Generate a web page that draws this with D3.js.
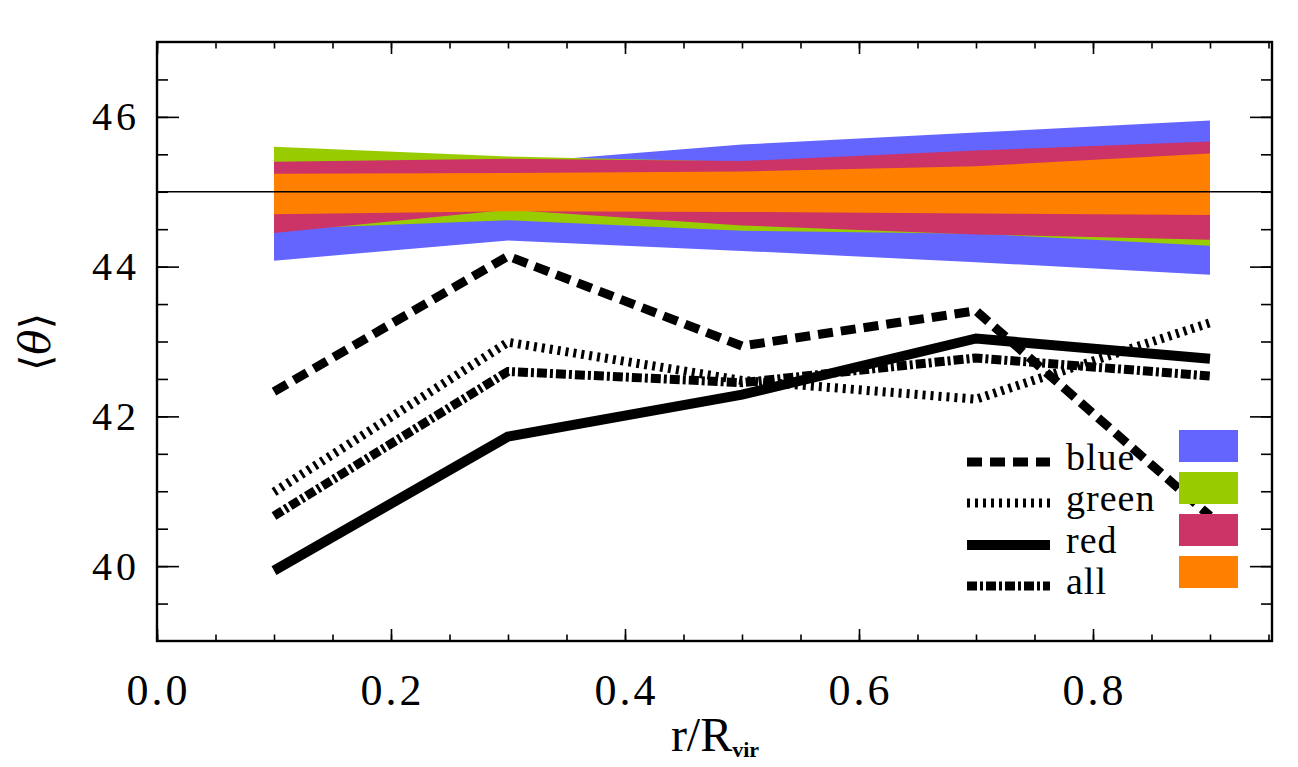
<!DOCTYPE html>
<html>
<head>
<meta charset="utf-8">
<script src="https://cdn.jsdelivr.net/npm/d3@7"></script>
<style>
  html, body { margin: 0; padding: 0; background: #fff; }
  svg { display: block; }
</style>
</head>
<body>
<svg id="chart" width="1298" height="767"></svg>
<script>
// ---- data ----
const radii = [0.1, 0.3, 0.5, 0.7, 0.9];

// band limits (mean angle spread) per colour sample
const blueHi   = [45.50, 45.38, 45.63, 45.79, 45.95];
const blueLo   = [44.08, 44.35, 44.21, 44.06, 43.89];
const greenHi  = [45.60, 45.47, 45.40, 45.45, 45.60];
const greenLo  = [44.50, 44.62, 44.48, 44.44, 44.28];
const redHi    = [45.40, 45.44, 45.41, 45.55, 45.67];
const redLo    = [44.45, 44.76, 44.55, 44.43, 44.36];
const orangeHi = [45.24, 45.25, 45.27, 45.34, 45.51];
const orangeLo = [44.70, 44.74, 44.73, 44.71, 44.69];

// measured mean angles
const blueLine  = [42.33, 44.14, 42.94, 43.41, 40.67];
const greenLine = [40.99, 42.99, 42.48, 42.23, 43.25];
const redLine   = [39.94, 41.73, 42.29, 43.04, 42.77];
const allLine   = [40.67, 42.60, 42.45, 42.78, 42.54];

const xTicks = [0.0, 0.2, 0.4, 0.6, 0.8];
const xTickLabels = ["0.0", "0.2", "0.4", "0.6", "0.8"];
const yTicks = [40, 42, 44, 46];
const yTickLabels = ["40", "42", "44", "46"];
const refValue = 45;

const legendNames = ["blue", "green", "red", "all"];
const bandNames = ["blue", "green", "red", "orange"];

// ---- layout ----
const SERIF = "'Liberation Serif', 'Times New Roman', 'DejaVu Serif', serif";
const svg = d3.select("#chart").style("font-family", SERIF);
const L = 157, R = 1272, T = 42, B = 641;
const x = d3.scaleLinear().domain([0, 0.953]).range([L, R]);
const y = d3.scaleLinear().domain([39, 47]).range([B, T]);

const bandColors = { blue: "#6464ff", green: "#99cc00", red: "#cc3366", orange: "#ff7f00" };
const bands = [
  { name: "blue", hi: blueHi, lo: blueLo },
  { name: "green", hi: greenHi, lo: greenLo },
  { name: "red", hi: redHi, lo: redLo },
  { name: "orange", hi: orangeHi, lo: orangeLo }
];
const lineStyles = {
  blue:  { dash: "15,8", width: 9 },
  green: { dash: "3,5", width: 9 },
  red:   { dash: null, width: 10 },
  all:   { dash: "10,3,3,3", width: 9 }
};
const lines = [
  { name: "blue", vals: blueLine },
  { name: "green", vals: greenLine },
  { name: "red", vals: redLine },
  { name: "all", vals: allLine }
];

// bands
const area = d3.area()
  .x((d, i) => x(radii[i]))
  .y0(d => y(d[0]))
  .y1(d => y(d[1]));
bands.forEach(b => {
  const pts = radii.map((r, i) => [b.lo[i], b.hi[i]]);
  svg.append("path").datum(pts)
    .attr("d", area)
    .attr("fill", bandColors[b.name]);
});

// reference line
svg.append("line")
  .attr("x1", x.range()[0]).attr("x2", x.range()[1])
  .attr("y1", y(refValue)).attr("y2", y(refValue))
  .attr("stroke", "#000").attr("stroke-width", 1.6);

// data lines
const lineGen = d3.line().x((d, i) => x(radii[i])).y(d => y(d));
lines.forEach(l => {
  const st = lineStyles[l.name];
  const p = svg.append("path").datum(l.vals)
    .attr("d", lineGen)
    .attr("fill", "none")
    .attr("stroke", "#000")
    .attr("stroke-width", st.width)
    .attr("stroke-linejoin", "miter");
  if (st.dash) p.attr("stroke-dasharray", st.dash);
});

// axes (ticks inward on all four sides)
const xMinor = d3.range(0, 0.951, 0.05);
const yMinor = d3.range(39.5, 47, 0.5);
const xMajLen = 12, xMinLen = 6.5, yMajLen = 22, yMinLen = 11;

const axB = d3.axisBottom(x).tickValues(xMinor).tickSize(-xMinLen).tickFormat("");
const axBM = d3.axisBottom(x).tickValues(xTicks).tickSize(-xMajLen).tickFormat("");
const axT = d3.axisTop(x).tickValues(xMinor).tickSize(-xMinLen).tickFormat("");
const axTM = d3.axisTop(x).tickValues(xTicks).tickSize(-xMajLen).tickFormat("");
const axL = d3.axisLeft(y).tickValues(yMinor).tickSize(-yMinLen).tickFormat("");
const axLM = d3.axisLeft(y).tickValues(yTicks).tickSize(-yMajLen).tickFormat("");
const axR = d3.axisRight(y).tickValues(yMinor).tickSize(-yMinLen).tickFormat("");
const axRM = d3.axisRight(y).tickValues(yTicks).tickSize(-yMajLen).tickFormat("");

function addAxis(ax, tr) {
  const g = svg.append("g").attr("transform", tr).call(ax);
  g.select(".domain").remove();
  g.selectAll(".tick line").attr("stroke", "#000").attr("stroke-width", 1.6);
}
addAxis(axB, `translate(0,${B})`);
addAxis(axBM, `translate(0,${B})`);
addAxis(axT, `translate(0,${T})`);
addAxis(axTM, `translate(0,${T})`);
addAxis(axL, `translate(${L},0)`);
addAxis(axLM, `translate(${L},0)`);
addAxis(axR, `translate(${R},0)`);
addAxis(axRM, `translate(${R},0)`);

// frame
svg.append("rect")
  .attr("x", L).attr("y", T).attr("width", R - L).attr("height", B - T)
  .attr("fill", "none").attr("stroke", "#000").attr("stroke-width", 2.4);

// tick labels
svg.append("g").selectAll("text").data(xTicks).join("text")
  .attr("x", d => x(d) + 1.5)
  .attr("y", 705)
  .attr("text-anchor", "middle")
  .attr("font-family", SERIF)
  .attr("font-size", 44)
  .attr("letter-spacing", 3)
  .text((d, i) => xTickLabels[i]);

svg.append("g").selectAll("text").data(yTicks).join("text")
  .attr("x", 140)
  .attr("y", d => y(d) + 13.5)
  .attr("text-anchor", "end")
  .attr("font-family", SERIF)
  .attr("font-size", 40)
  .attr("letter-spacing", 4)
  .text((d, i) => yTickLabels[i]);

// axis titles
const xt = svg.append("text")
  .attr("x", 715).attr("y", 751)
  .attr("text-anchor", "middle")
  .attr("font-family", SERIF)
  .attr("font-size", 48);
xt.append("tspan").text("r/R");
xt.append("tspan").attr("font-size", 22).attr("font-weight", "bold").attr("dy", 6).text("vir");

const yt = svg.append("text")
  .attr("transform", "translate(50,342) rotate(-90)")
  .attr("text-anchor", "middle")
  .attr("font-size", 42)
  .attr("font-family", "'DejaVu Serif', serif");
yt.append("tspan").text("\u27E8");
yt.append("tspan").attr("font-style", "italic").text("\u03B8");
yt.append("tspan").text("\u27E9");

// legend
const legY = [462, 503, 545, 586];
lines.forEach((l, i) => {
  const st = lineStyles[l.name];
  const ln = svg.append("line")
    .attr("x1", 967).attr("x2", 1050)
    .attr("y1", legY[i]).attr("y2", legY[i])
    .attr("stroke", "#000").attr("stroke-width", st.width);
  if (st.dash) ln.attr("stroke-dasharray", st.dash);
  svg.append("text")
    .attr("x", 1066).attr("y", legY[i] + 8)
    .attr("font-family", SERIF)
    .attr("font-size", 38)
    .attr("letter-spacing", 1)
    .text(legendNames[i]);
});
const boxY = [430, 472, 514, 556];
bandNames.forEach((n, i) => {
  svg.append("rect")
    .attr("x", 1179).attr("y", boxY[i])
    .attr("width", 59).attr("height", 32)
    .attr("fill", bandColors[n]);
});
</script>
</body>
</html>
